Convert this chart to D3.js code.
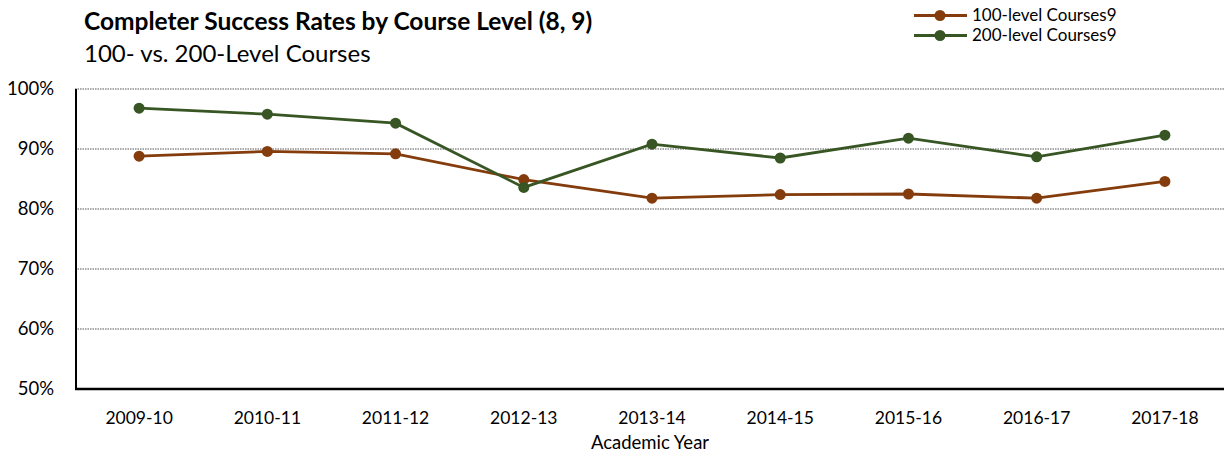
<!DOCTYPE html>
<html>
<head>
<meta charset="utf-8">
<script src="https://cdn.jsdelivr.net/npm/d3@7"></script>
<style>
  body { margin: 0; background: #fff; }
  text { font-family: Lato, "Open Sans", sans-serif; fill: #000; }
</style>
</head>
<body>
<div id="chart"></div>
<script>
// chart data
var years = ["2009-10", "2010-11", "2011-12", "2012-13", "2013-14", "2014-15", "2015-16", "2016-17", "2017-18"];
var level100 = [88.8, 89.6, 89.2, 84.9, 81.8, 82.4, 82.5, 81.8, 84.6];
var level200 = [96.8, 95.8, 94.3, 83.6, 90.8, 88.5, 91.8, 88.7, 92.3];
var seriesNames = ["100-level Courses9", "200-level Courses9"];
var yTicks = [50, 60, 70, 80, 90, 100];

var svgWidth = 1224;
var svgHeight = 454;
var margin = { top: 89, bottom: 65, left: 75, right: -5 };
var colors = ["#843C0C", "#375623"];

var svg = d3.select("#chart").append("svg")
    .attr("width", svgWidth)
    .attr("height", svgHeight);

var xScale = d3.scaleBand()
    .domain(years)
    .range([margin.left, svgWidth - margin.right]);

var yScale = d3.scaleLinear()
    .domain([50, 100])
    .range([svgHeight - margin.bottom, margin.top]);

// gridlines
svg.append("g").selectAll("line")
    .data(yTicks.filter(d => d > 50))
    .enter()
    .append("line")
    .attr("x1", margin.left)
    .attr("x2", svgWidth)
    .attr("y1", d => yScale(d))
    .attr("y2", d => yScale(d))
    .attr("stroke", "#555")
    .attr("stroke-width", 1.2)
    .attr("stroke-dasharray", "1.5,1");

// y tick labels
svg.append("g").selectAll("text")
    .data(yTicks)
    .enter()
    .append("text")
    .attr("x", 54)
    .attr("y", d => yScale(d) + 6)
    .attr("text-anchor", "end")
    .style("font-size", "18.5px")
    .text(d => d + "%");

// axes lines
svg.append("line")
    .attr("x1", margin.left + 1).attr("x2", margin.left + 1)
    .attr("y1", yScale(100)).attr("y2", yScale(50) + 1)
    .attr("stroke", "#000").attr("stroke-width", 2);
svg.append("line")
    .attr("x1", margin.left).attr("x2", svgWidth)
    .attr("y1", yScale(50)).attr("y2", yScale(50))
    .attr("stroke", "#000").attr("stroke-width", 2.5);

// x labels
svg.append("g").selectAll("text")
    .data(years)
    .enter()
    .append("text")
    .attr("x", d => xScale(d) + xScale.bandwidth() / 2)
    .attr("y", 424)
    .attr("text-anchor", "middle")
    .style("font-size", "17.5px")
    .text(d => d);

svg.append("text")
    .attr("x", 650)
    .attr("y", 449)
    .attr("text-anchor", "middle")
    .style("font-size", "18.5px")
    .text("Academic Year");

// lines + markers
var line = d3.line()
    .x((d, i) => xScale(years[i]) + xScale.bandwidth() / 2)
    .y(d => yScale(d));

[level100, level200].forEach(function(series, k) {
    svg.append("path")
        .datum(series)
        .attr("d", line)
        .attr("fill", "none")
        .attr("stroke", colors[k])
        .attr("stroke-width", 2.8);
    svg.append("g").selectAll("circle")
        .data(series)
        .enter()
        .append("circle")
        .attr("cx", (d, i) => xScale(years[i]) + xScale.bandwidth() / 2)
        .attr("cy", d => yScale(d))
        .attr("r", 5.5)
        .attr("fill", colors[k]);
});

// title
svg.append("text")
    .attr("x", 84)
    .attr("y", 30)
    .style("font-size", "24.5px")
    .style("font-weight", "bold")
    .text("Completer Success Rates by Course Level (8, 9)");
svg.append("text")
    .attr("x", 84)
    .attr("y", 62)
    .style("font-size", "24px")
    .text("100- vs. 200-Level Courses");

// legend
var legend = svg.append("g");
seriesNames.forEach(function(name, k) {
    var ly = 15.5 + k * 20;
    legend.append("line")
        .attr("x1", 914).attr("x2", 967)
        .attr("y1", ly).attr("y2", ly)
        .attr("stroke", colors[k]).attr("stroke-width", 2.8);
    legend.append("circle")
        .attr("cx", 940).attr("cy", ly).attr("r", 5.5)
        .attr("fill", colors[k]);
    legend.append("text")
        .attr("x", 972)
        .attr("y", ly + 5.5)
        .style("font-size", "17px")
        .text(name);
});
</script>
</body>
</html>
